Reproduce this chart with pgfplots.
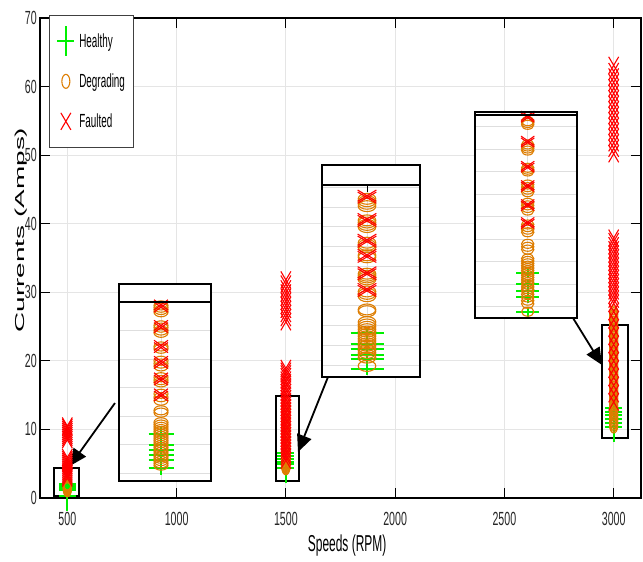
\documentclass[border=0pt]{standalone}
\usepackage{pgfplots}
\pgfplotsset{compat=1.18}
\usetikzlibrary{arrows.meta}
\usepackage{fontspec}
\setmainfont{Liberation Sans}
\newfontfamily\tickfont{Liberation Sans}[FakeStretch=0.56]
\newfontfamily\legfont{Liberation Sans}[FakeStretch=0.52]
\newfontfamily\xlabfont{Liberation Sans}[FakeStretch=0.52]
\newfontfamily\ylabfont{Liberation Sans}[FakeStretch=2.15]
\definecolor{hgreen}{RGB}{0,240,0}
\definecolor{dorange}{RGB}{222,125,0}
\definecolor{fred}{RGB}{255,0,0}
\pgfplotsset{
  inset/.style={anchor=south west, scale only axis, xticklabels={}, yticklabels={},
    major tick length=0pt, grid=major, grid style={black!13, line width=0.8pt},
    axis line style={draw=none}, clip=false},
}
\begin{document}
\begin{tikzpicture}
\useasboundingbox (-40pt,-64pt) rectangle (603pt,498pt);
\begin{axis}[
  name=main, at={(0pt,0pt)}, anchor=south west,
  scale only axis, width=601pt, height=480pt,
  xmin=375, xmax=3125, ymin=0, ymax=70,
  xtick={500,1000,1500,2000,2500,3000}, ytick={0,10,20,30,40,50,60,70},
  grid=major, grid style={line width=0.9pt, black!10},
  axis line style={line width=1.1pt},
  major tick length=10pt, tick style={black, line width=0.9pt}, tick align=inside,
  /pgf/number format/assume math mode=true,
  /pgf/number format/1000 sep={},
  ticklabel style={font=\tickfont\fontsize{19pt}{20pt}\selectfont, text=black!85},
  xticklabel style={inner sep=0pt, yshift=-14pt},
  yticklabel style={inner sep=0pt, xshift=-3pt},
  xlabel={Speeds (RPM)}, ylabel={Currents (Amps)},
  every axis x label/.style={at={(axis description cs:0.511,0)}, anchor=base, yshift=-53.7pt, font=\xlabfont\fontsize{23pt}{25pt}\selectfont},
  every axis y label/.style={at={(axis description cs:-0.025,0.558)}, rotate=90, anchor=base, font=\ylabfont\fontsize{13pt}{15pt}\selectfont},
  clip=false,
  legend cell align=left,
  legend style={at={(axis description cs:0.015,1.00625)}, anchor=north west,
    draw=black!75, line width=0.7pt, fill=white, inner xsep=8pt, inner ysep=6pt,
    column sep=5pt, font=\legfont\fontsize{19pt}{20pt}\selectfont,
    nodes={minimum height=40pt, inner sep=0pt, anchor=west}},
]
\addplot[only marks, mark=+, color=hgreen, mark size=8.5pt, mark options={yscale=1.75, line width=1.9pt, draw=hgreen}] coordinates {(500,0.3)(500,1.2)(500,1.5)(500,1.8)(500,2.1)
 (1500,4.4)(1500,4.9)(1500,5.3)(1500,5.7)(1500,6.1)(1500,6.5)
 (3000,10.4)(3000,11.0)(3000,11.5)(3000,12.1)(3000,12.6)(3000,13.1)};
\addlegendentry{Healthy}
\addplot[only marks, mark=o, color=dorange, mark size=4pt, mark options={yscale=1.75, line width=1.1pt}] coordinates {(500,1.2)(500,1.3)(500,1.4)(500,1.5)(500,1.6)(500,1.7)(500,1.8)(500,1.9)(500,2.0)(500,2.1)(500,2.2)
 (1500,4.4)(1500,4.55)(1500,4.7)(1500,4.85)(1500,5.0)(1500,5.15)(1500,5.3)(1500,5.45)(1500,5.6)(1500,5.75)(1500,5.9)(1500,6.05)(1500,6.2)(1500,6.35)(1500,6.5)(1500,6.9)(1500,7.2)(1500,7.6)(1500,7.9)(1500,8.3)(1500,8.6)(1500,9.0)(1500,9.3)(1500,9.7)(1500,10.0)(1500,10.4)(1500,10.7)(1500,11.1)(1500,11.4)(1500,11.8)(1500,12.1)(1500,12.5)(1500,12.8)(1500,13.2)(1500,13.6)
 (3000,10.5)(3000,10.75)(3000,11.0)(3000,11.25)(3000,11.5)(3000,11.75)(3000,12.0)(3000,12.25)(3000,12.5)(3000,12.75)(3000,13.0)(3000,13.25)(3000,13.5)(3000,13.75)(3000,14.0)(3000,14.25)(3000,14.5)(3000,14.75)(3000,15.0)(3000,15.25)(3000,15.5)(3000,15.75)(3000,16.0)(3000,16.25)(3000,16.5)(3000,16.75)(3000,17.0)(3000,17.25)(3000,17.5)(3000,17.75)(3000,18.0)(3000,18.25)(3000,18.5)(3000,18.75)(3000,19.0)(3000,19.25)(3000,19.5)(3000,19.75)(3000,20.0)(3000,20.25)(3000,20.5)(3000,20.75)(3000,21.0)(3000,21.25)(3000,21.5)(3000,21.75)(3000,22.0)(3000,22.25)(3000,22.5)(3000,22.75)(3000,23.0)(3000,23.25)(3000,23.5)(3000,23.75)(3000,24.0)(3000,24.25)(3000,24.5)(3000,24.75)(3000,25.0)(3000,25.25)(3000,25.5)(3000,25.75)(3000,26.0)(3000,26.25)(3000,26.5)(3000,26.75)(3000,27.0)};
\addlegendentry{Degrading}
\addplot[only marks, mark=x, color=fred, mark size=7.1pt, mark options={yscale=1.7, line width=1.1pt}] coordinates {(500,2.9)(500,3.2)(500,3.5)(500,3.8)(500,4.1)(500,4.4)(500,4.7)(500,5.0)(500,5.3)(500,5.6)(500,5.9)(500,8.5)(500,8.8)(500,9.1)(500,9.4)(500,9.7)(500,10.0)(500,10.3)(500,10.5)
 (1500,5.5)(1500,6.0)(1500,6.4)(1500,6.9)(1500,7.3)(1500,7.8)(1500,8.2)(1500,8.7)(1500,9.1)(1500,9.6)(1500,10.0)(1500,10.5)(1500,10.9)(1500,11.4)(1500,11.8)(1500,12.3)(1500,12.7)(1500,13.2)(1500,13.6)(1500,14.1)(1500,14.5)(1500,15.0)(1500,15.4)(1500,15.9)(1500,16.3)(1500,16.8)(1500,17.2)(1500,17.7)(1500,18.1)(1500,18.5)(1500,18.9)
 (1500,25.7)(1500,26.3)(1500,26.9)(1500,27.5)(1500,28.1)(1500,28.7)(1500,29.3)(1500,29.9)(1500,30.5)(1500,31.2)(1500,31.8)
 (3000,14.0)(3000,15.2)(3000,16.4)(3000,17.6)(3000,18.8)(3000,20.0)(3000,21.2)(3000,22.4)(3000,23.6)(3000,24.8)(3000,26.0)(3000,27.2)(3000,28.4)(3000,29.0)(3000,29.6)(3000,30.2)(3000,30.8)(3000,31.4)(3000,32.0)(3000,32.6)(3000,33.2)(3000,33.8)(3000,34.4)(3000,35.0)(3000,35.6)(3000,36.2)(3000,36.8)(3000,37.4)(3000,37.9)
 (3000,50.2)(3000,51.0)(3000,51.8)(3000,52.6)(3000,53.4)(3000,54.2)(3000,55.0)(3000,55.8)(3000,56.6)(3000,57.4)(3000,58.2)(3000,59.0)(3000,59.8)(3000,60.6)(3000,61.4)(3000,62.2)(3000,63.1)};
\addlegendentry{Faulted}
\draw[line width=2.2pt] (axis cs:439,0.29) rectangle (axis cs:553,4.37);
\draw[line width=2.2pt] (axis cs:1455,2.48) rectangle (axis cs:1560,14.87);
\draw[line width=2.2pt] (axis cs:2946.5,8.75) rectangle (axis cs:3065.5,25.23);
\draw[line width=1.8pt, -{Triangle[length=17pt,width=15pt]}] (axis cs:718,13.85) -- (axis cs:512,4.67);
\draw[line width=1.8pt, -{Triangle[length=17pt,width=15pt]}] (axis cs:1692.8,17.65) -- (axis cs:1555.5,6.71);
\draw[line width=1.8pt, -{Triangle[length=17pt,width=15pt]}] (axis cs:2813.8,26.25) -- (axis cs:2946.5,19.40);
\end{axis}
% inset 1
\fill[white] (79pt,17pt) rectangle (171pt,214pt);
\begin{axis}[inset, at={(79pt,17pt)}, width=92pt, height=179pt,
  xmin=458, xmax=550, ymin=0.36, ymax=3.5, xtick={500}, ytick={0.5,1,1.5,2,2.5,3,3.5}]
\addplot[only marks, mark=+, color=hgreen, mark size=12.5pt, mark options={yscale=0.56, line width=1.8pt, draw=hgreen}] coordinates {(500,1.18)(500,0.99)(500,0.90)(500,0.82)(500,0.73)(500,0.59)};
\addplot[only marks, mark=o, color=dorange, mark size=7pt, mark options={yscale=0.65, line width=1.1pt}] coordinates {(500,3.44)(500,3.40)(500,3.36)(500,3.32)(500,3.09)(500,3.05)(500,3.00)(500,2.96)(500,2.72)(500,2.68)(500,2.47)(500,2.42)(500,2.37)(500,2.18)(500,2.13)(500,2.09)(500,1.89)(500,1.83)(500,1.77)(500,1.60)(500,1.56)(500,1.39)(500,1.35)(500,1.31)(500,1.27)(500,1.23)(500,1.19)(500,1.15)(500,1.11)(500,1.07)(500,1.03)(500,0.99)(500,0.95)(500,0.91)(500,0.87)(500,0.83)(500,0.79)(500,0.75)(500,0.71)(500,0.67)(500,0.63)};
\addplot[only marks, mark=x, color=fred, mark size=9.9pt, mark options={yscale=0.72, line width=1.1pt}] coordinates {(500,3.45)(500,3.41)(500,3.09)(500,3.05)(500,2.74)(500,2.70)(500,2.46)(500,2.42)(500,2.17)(500,2.13)(500,1.89)(500,1.85)};
\end{axis}
\draw[line width=2.4pt] (79pt,17pt) rectangle (171pt,214pt);
\draw[line width=1.1pt] (79pt,196pt) -- (171pt,196pt);
% inset 2
\fill[white] (282pt,121pt) rectangle (380pt,333pt);
\begin{axis}[inset, at={(282pt,121pt)}, width=98pt, height=192pt,
  xmin=1455, xmax=1553, ymin=2.39, ymax=12.11, xtick={1500}, ytick={3,4,5,6,7,8,9,10,11,12}]
\addplot[only marks, mark=+, color=hgreen, mark size=16.5pt, mark options={yscale=0.36, line width=2pt, draw=hgreen}] coordinates {(1500,4.61)(1500,4.06)(1500,3.79)(1500,3.51)(1500,3.29)(1500,2.81)};
\addplot[only marks, mark=o, color=dorange, mark size=8.8pt, mark options={yscale=0.62, line width=1.1pt}] coordinates {(1500,11.41)(1500,11.29)(1500,11.16)(1500,11.04)(1500,10.32)(1500,10.21)(1500,10.09)(1500,9.98)(1500,9.19)(1500,9.07)(1500,8.96)(1500,8.55)(1500,8.45)(1500,7.62)(1500,7.52)(1500,7.43)(1500,7.33)(1500,6.72)(1500,6.60)(1500,6.48)(1500,5.81)(1500,5.72)(1500,5.17)(1500,5.05)(1500,4.93)(1500,4.81)(1500,4.69)(1500,4.57)(1500,4.45)(1500,4.33)(1500,4.21)(1500,4.09)(1500,3.97)(1500,3.85)(1500,3.73)(1500,3.61)(1500,3.49)(1500,3.37)(1500,2.95)};
\addplot[only marks, mark=x, color=fred, mark size=13.2pt, mark options={yscale=0.6, line width=1.1pt}] coordinates {(1500,11.57)(1500,11.47)(1500,10.39)(1500,10.29)(1500,9.34)(1500,9.24)(1500,8.57)(1500,8.47)(1500,7.69)(1500,7.59)(1500,6.85)(1500,6.75)};
\end{axis}
\draw[line width=2.4pt] (282pt,121pt) rectangle (380pt,333pt);
\draw[line width=1.1pt] (282pt,313pt) -- (380pt,313pt);
\draw[line width=0.9pt] (327pt,313pt) -- (327pt,306pt);
% inset 3
\fill[white] (435pt,180pt) rectangle (537pt,386pt);
\begin{axis}[inset, at={(435pt,180pt)}, width=102pt, height=203pt,
  xmin=2947.3, xmax=3049.3, ymin=9.0, ymax=27.04, xtick={3000}, ytick={10,12,14,16,18,20,22,24,26}]
\addplot[only marks, mark=+, color=hgreen, mark size=11.7pt, mark options={yscale=0.45, line width=1.8pt, draw=hgreen}] coordinates {(3000,13.02)(3000,11.99)(3000,11.40)(3000,10.84)(3000,9.53)};
\addplot[only marks, mark=o, color=dorange, mark size=6.2pt, mark options={yscale=0.73, line width=1.1pt}] coordinates {(3000,26.49)(3000,26.33)(3000,26.17)(3000,24.42)(3000,24.24)(3000,24.06)(3000,23.88)(3000,22.35)(3000,22.18)(3000,22.02)(3000,20.86)(3000,20.63)(3000,20.41)(3000,20.18)(3000,19.24)(3000,19.01)(3000,18.78)(3000,18.55)(3000,17.31)(3000,17.08)(3000,16.85)(3000,16.62)(3000,15.59)(3000,15.33)(3000,15.08)(3000,14.28)(3000,14.07)(3000,13.86)(3000,13.65)(3000,13.44)(3000,13.23)(3000,13.02)(3000,12.81)(3000,12.60)(3000,12.39)(3000,12.18)(3000,11.97)(3000,11.76)(3000,11.55)(3000,11.38)(3000,11.10)(3000,10.82)(3000,10.54)(3000,10.26)(3000,9.56)};
\addplot[only marks, mark=x, color=fred, mark size=9.4pt, mark options={yscale=0.7, line width=1.1pt}] coordinates {(3000,26.97)(3000,26.81)(3000,24.75)(3000,24.59)(3000,22.52)(3000,22.36)(3000,20.81)(3000,20.65)(3000,19.12)(3000,18.96)(3000,17.52)(3000,17.36)};
\end{axis}
\draw[line width=2.4pt] (435pt,180pt) rectangle (537pt,386pt);
\draw[line width=1.1pt] (435pt,383pt) -- (537pt,383pt);
\end{tikzpicture}
\end{document}
